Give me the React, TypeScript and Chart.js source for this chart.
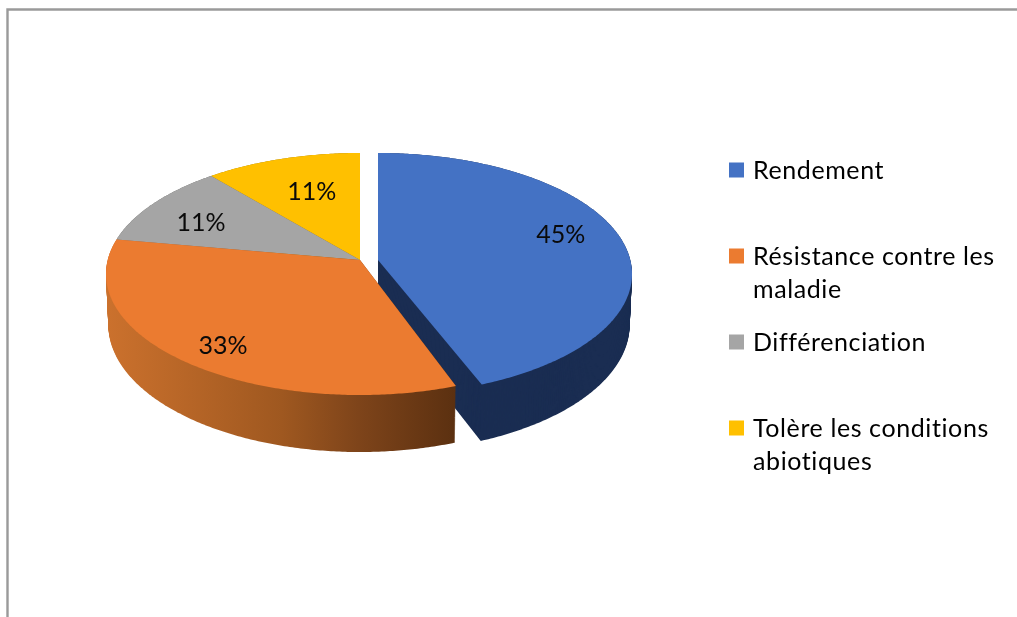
import React, { useEffect, useRef } from "react";
import { Chart, registerables } from "chart.js";

Chart.register(...registerables);

const categories = ["Rendement", "Résistance contre les maladie", "Différenciation", "Tolère les conditions abiotiques"];
const legendLines = [["Rendement", ""], ["Résistance contre les", "maladie"], ["Différenciation", ""], ["Tolère les conditions", "abiotiques"]];
const shares = [44.5, 33.3, 11.1, 11.1];
const sliceColors = ["#4472C4", "#EB7B30", "#A5A5A5", "#FFC000"];
const wallColors = ["#1A2D52", "#ED7D31", "#63635F", "#997300"];

const FONT = "Lato, 'Open Sans', sans-serif";
const K = -0.1157;
const top = { y: 260, a: 119.4, b: 252.3 };
const bottom = { y: 310, a: 125.6, b: 250 };
const PIE_X = 360;
const explode = [18, 0, 0, 0];
const endTrim = [0.03, 0, 0, 0];
const labelNudge = [[4, -10], [-10, 15], [-6, 5], [10, 8]];
const WALL_STEPS = 56;

function project(face: any, cx: number, angle: number, r = 1) {
  const u = Math.cos(angle) * r;
  const v = Math.sin(angle) * r;
  const w = 1 + K * v;
  return [cx + (face.b * u) / w, face.y + (face.a * v) / w];
}

function slicePath(ctx: CanvasRenderingContext2D, face: any, cx: number, start: number, end: number) {
  ctx.beginPath();
  ctx.moveTo(cx, face.y);
  const n = Math.max(8, Math.ceil((end - start) / 0.01));
  for (let i = 0; i <= n; i++) {
    const p = project(face, cx, start + ((end - start) * i) / n);
    ctx.lineTo(p[0], p[1]);
  }
  ctx.closePath();
}

const pie3d = {
  id: "pie3d",
  afterLayout(chart: any) {
    const legend = chart.legend;
    legend.left = 709;
    legend.top = 137.5;
    legend.right = 1017;
    legend.bottom = 617;
    if (!legend.__tuned) {
      legend.__tuned = true;
      const draw = legend.draw.bind(legend);
      legend.draw = (...args: any[]) => {
        const ctx = chart.ctx;
        const fillText = ctx.fillText;
        ctx.save();
        ctx.letterSpacing = "0.6px";
        ctx.fillText = (t: string, x: number, y: number, m?: number) => fillText.call(ctx, t, x - 3.5, y + 1, m);
        draw(...args);
        delete ctx.fillText;
        ctx.restore();
      };
    }
  },
  beforeDraw(chart: any) {
    const { ctx, width, height } = chart;
    ctx.save();
    ctx.fillStyle = "#fff";
    ctx.fillRect(0, 0, width, height);
    ctx.strokeStyle = "#9a9a9a";
    ctx.lineWidth = 2.4;
    ctx.beginPath();
    ctx.moveTo(7.5, height + 5);
    ctx.lineTo(7.5, 9.5);
    ctx.lineTo(width + 5, 9.5);
    ctx.stroke();
    ctx.restore();
  },
  beforeDatasetDraw(chart: any) {
    const { ctx } = chart;
    const arcs = chart.getDatasetMeta(0).data;
    const gradient = ctx.createLinearGradient(107, 0, 456, 0);
    gradient.addColorStop(0, "#CB712D");
    gradient.addColorStop(0.5, "#9F5820");
    gradient.addColorStop(0.72, "#7E441A");
    gradient.addColorStop(1, "#5B3010");
    ctx.save();
    [0, 2, 3, 1].forEach((i) => {
      const arc = arcs[i];
      const cx = PIE_X + explode[i];
      ctx.fillStyle = i === 1 ? gradient : wallColors[i];
      for (let s = WALL_STEPS; s >= 0; s--) {
        const t = s / WALL_STEPS;
        const face = {
          y: top.y + (bottom.y - top.y) * t,
          a: top.a + (bottom.a - top.a) * t,
          b: top.b + (bottom.b - top.b) * t,
        };
        slicePath(ctx, face, cx, arc.startAngle, arc.endAngle - endTrim[i]);
        ctx.fill();
      }
    });
    [3, 2, 0, 1].forEach((i) => {
      const arc = arcs[i];
      ctx.fillStyle = sliceColors[i];
      slicePath(ctx, top, PIE_X + explode[i], arc.startAngle, arc.endAngle - endTrim[i]);
      ctx.fill();
    });
    ctx.restore();
    return false;
  },
  afterDatasetsDraw(chart: any) {
    const { ctx } = chart;
    const arcs = chart.getDatasetMeta(0).data;
    ctx.save();
    ctx.font = `25px ${FONT}`;
    ctx.fillStyle = "#0a0a0a";
    ctx.textAlign = "center";
    ctx.textBaseline = "middle";
    arcs.forEach((arc: any, i: number) => {
      const mid = (arc.startAngle + arc.endAngle) / 2;
      const p = project(top, PIE_X + explode[i], mid, 0.73);
      ctx.fillText(`${Math.round(shares[i])}%`, p[0] + labelNudge[i][0], p[1] + labelNudge[i][1]);
    });
    ctx.restore();
  },
};

export default function App() {
  const ref = useRef<HTMLCanvasElement>(null);
  useEffect(() => {
    const chart = new Chart(ref.current as HTMLCanvasElement, {
      type: "pie",
      data: {
        labels: categories,
        datasets: [{ data: shares, backgroundColor: sliceColors, borderWidth: 0 }],
      },
      options: {
        responsive: false,
        animation: false,
        events: [],
        plugins: {
          tooltip: { enabled: false },
          legend: {
            position: "right",
            align: "start",
            labels: {
              boxWidth: 15,
              boxHeight: 15,
              padding: 20,
              color: "#111",
              font: { family: FONT, size: 25, lineHeight: "33px" },
              generateLabels: () =>
                legendLines.map((text, i) => ({
                  text,
                  fillStyle: sliceColors[i],
                  strokeStyle: sliceColors[i],
                  lineWidth: 0,
                  hidden: false,
                  index: i,
                })),
            },
          },
        },
      } as any,
      plugins: [pie3d as any],
    });
    return () => chart.destroy();
  }, []);
  return (
    <canvas
      ref={ref}
      width={1017}
      height={617}
      style={{ position: "absolute", left: 0, top: 0, display: "block" }}
    />
  );
}
